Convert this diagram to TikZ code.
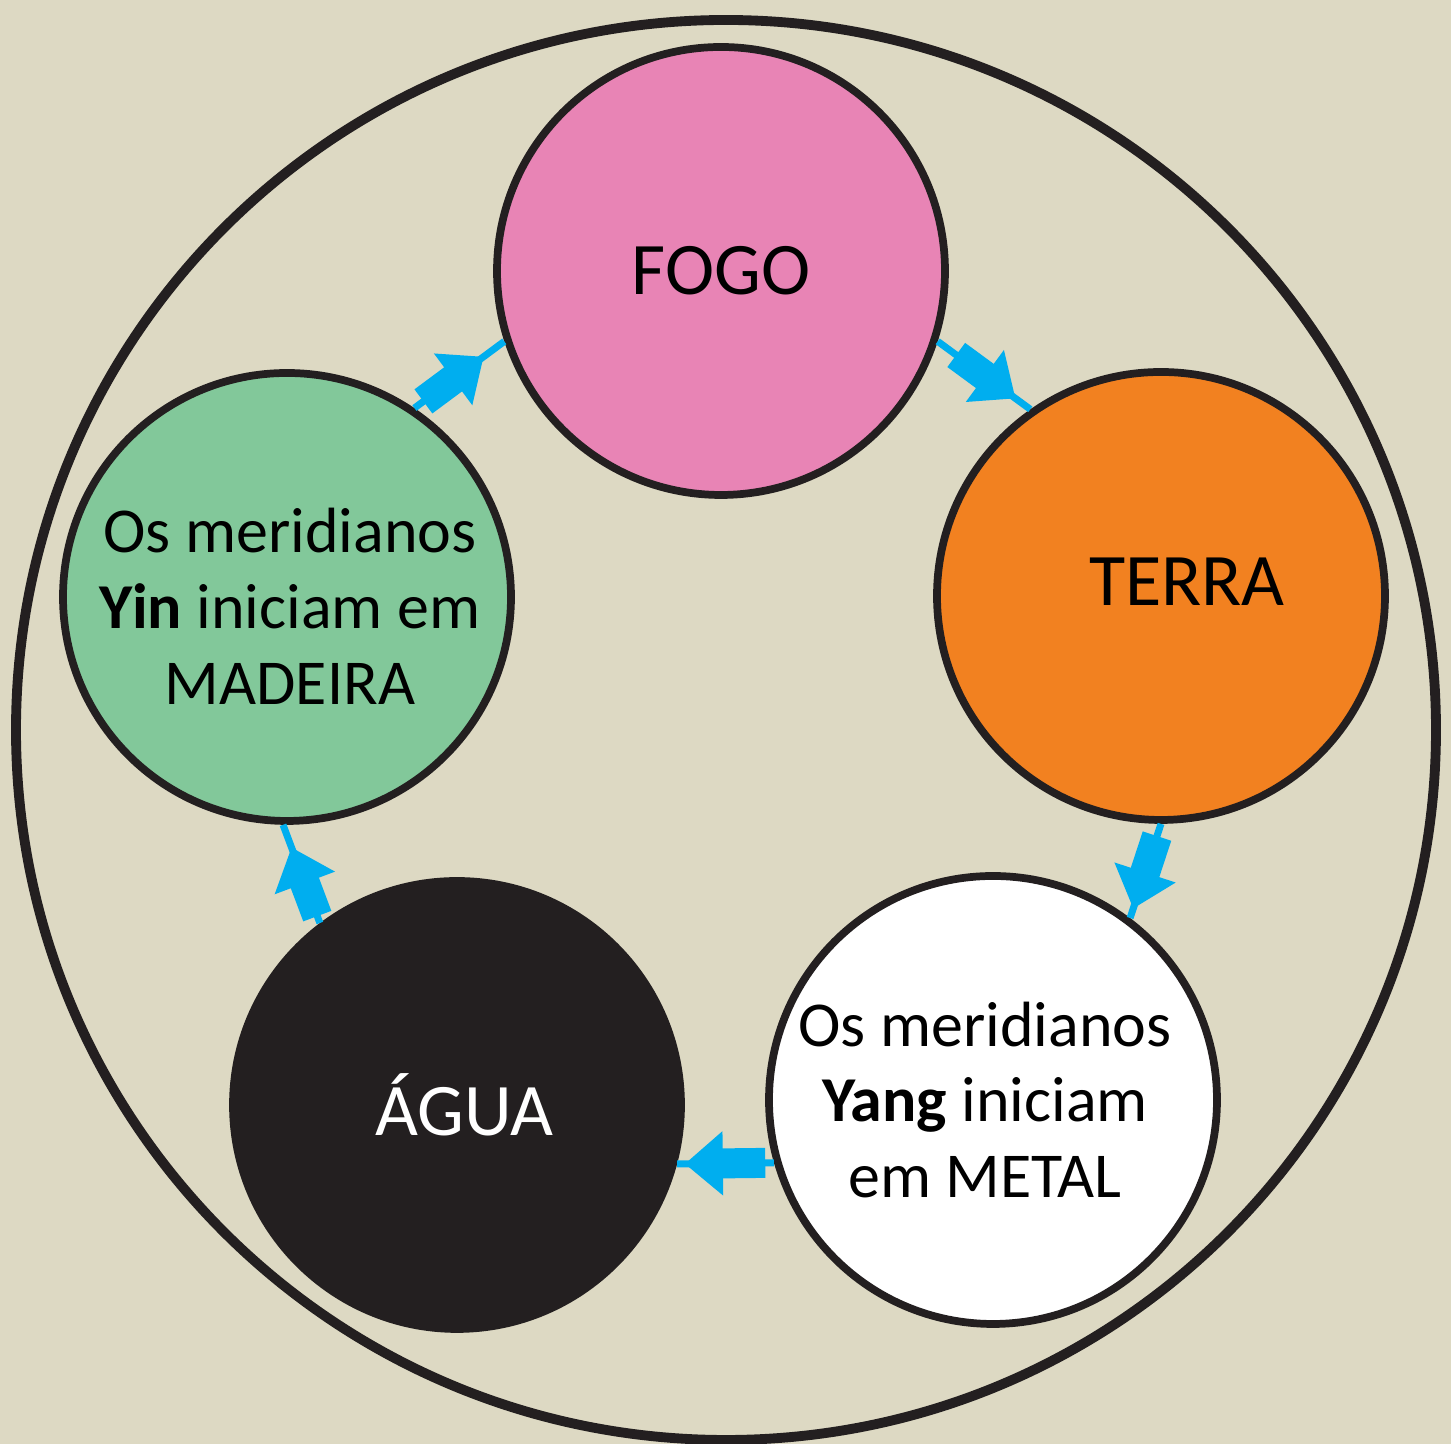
\documentclass[tikz,border=0pt]{standalone}
\usepackage{fontspec}
\setmainfont{Carlito}
\usepackage{tikz}
\usetikzlibrary{arrows.meta, calc}
\definecolor{mybg}{RGB}{221,217,195}
\definecolor{mydark}{RGB}{35,31,32}
\definecolor{mypink}{RGB}{232,132,181}
\definecolor{myorange}{RGB}{242,129,32}
\definecolor{mygreen}{RGB}{130,200,154}
\definecolor{mycyan}{RGB}{0,174,239}
\tikzset{
  elem/.style={circle, draw=mydark, line width=2.2pt, minimum size=4.48cm,
    inner sep=0pt, align=center},
  title/.style={font=\fontsize{21.1}{25}\selectfont, align=center},
  note/.style={font=\fontsize{18.2}{21.6}\selectfont, align=center},
  link/.style={line width=0.07cm, color=mycyan},
  flow/.style={-{Triangle[length=0.38cm, width=0.62cm]}, line width=0.3cm, color=mycyan}
}

\begin{document}
\begin{tikzpicture}
  % Background and outer ring
  \fill[mybg] (0,0) rectangle (14.51,14.44);
  \useasboundingbox (0,0) rectangle (14.51,14.44);
  \draw[mydark, line width=2.8pt] (7.26,7.14) circle (7.10);

  % The five elements
  \node[elem, fill=mypink, label={[title]center:FOGO}] (fogo) at (7.21,11.73) {};
  \node[elem, fill=myorange, label={[title, xshift=0.26cm, yshift=0.14cm]center:TERRA}] (terra) at (11.61,8.48) {};
  \node[elem, fill=white, label={[note, xshift=-0.08cm]center:Os meridianos\\\textbf{Yang} iniciam\\em METAL}] (metal) at (9.93,3.44) {};
  \node[elem, fill=mydark, label={[title, text=white, xshift=0.07cm]center:ÁGUA}] (agua) at (4.57,3.39) {};
  \node[elem, fill=mygreen, label={[note, xshift=0.03cm, yshift=-0.09cm]center:Os meridianos\\\textbf{Yin} iniciam em\\MADEIRA}] (madeira) at (2.87,8.47) {};

  % Thin links between elements
  \draw[link] (madeira.56) -- (fogo.198);
  \draw[link] (fogo.342) -- (terra.125);
  \draw[link] (terra.270) -- (metal.53);
  \draw[link] (metal.196) -- (agua.345);
  \draw[link] (agua.127) -- (madeira.269);

  % Block arrows along the links
  \draw[flow] ($(madeira.56)!0.1!(fogo.198)$) -- ($(madeira.56)!0.77!(fogo.198)$);
  \draw[flow] ($(fogo.342)!0.2!(terra.125)$) -- ($(fogo.342)!0.84!(terra.125)$);
  \draw[flow] ($(terra.270)!0.13!(metal.53)$) -- ($(terra.270)!0.9!(metal.53)$);
  \draw[flow] ($(metal.196)!0.09!(agua.345)$) -- ($(metal.196)!0.92!(agua.345)$);
  \draw[flow] ($(agua.127)!0.07!(madeira.269)$) -- ($(agua.127)!0.77!(madeira.269)$);
\end{tikzpicture}
\end{document}
